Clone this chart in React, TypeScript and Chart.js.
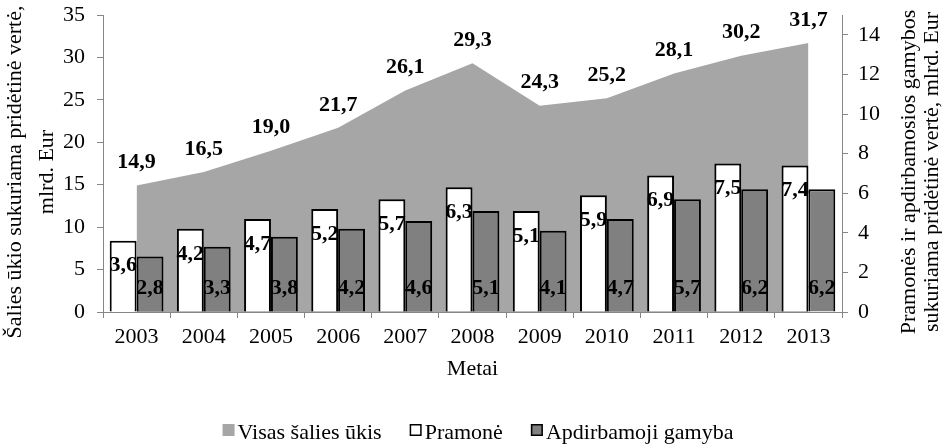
import React, { useEffect, useRef } from "react";
import { Chart, registerables } from "chart.js";

Chart.register(...registerables);

// ---- data ----
const years = ["2003", "2004", "2005", "2006", "2007", "2008", "2009", "2010", "2011", "2012", "2013"];
const visasUkis = [14.9, 16.5, 19.0, 21.7, 26.1, 29.3, 24.3, 25.2, 28.1, 30.2, 31.7];
const pramone = [3.6, 4.2, 4.7, 5.2, 5.7, 6.3, 5.1, 5.9, 6.9, 7.5, 7.4];
const apdirbamoji = [2.8, 3.3, 3.8, 4.2, 4.6, 5.1, 4.1, 4.7, 5.7, 6.2, 6.2];
const seriesNames = ["Visas šalies ūkis", "Pramonė", "Apdirbamoji gamyba"];
const leftAxis = { min: 0, max: 35, step: 5 };
const rightAxis = { min: 0, max: 15, step: 2 };
const leftTitle = ["Šalies ūkio sukuriama pridėtinė vertė,", "mlrd. Eur"];
const rightTitle = ["Pramonės ir apdirbamosios gamybos", "sukuriama pridėtinė vertė, mlrd. Eur"];
const xTitle = "Metai";

const FONT = "'Liberation Serif', 'Times New Roman', serif";
const AREA = "#a6a6a6";
const DARK = "#808080";
const AXIS = "#868686";

const fmt = (v: number) => v.toFixed(1).replace(".", ",");

const overlayPlugin = {
  id: "overlay",
  afterDatasetsDraw(chart: any) {
    const ctx = chart.ctx;
    ctx.save();
    ctx.font = `bold 22px ${FONT}`;
    ctx.fillStyle = "#000";
    ctx.textAlign = "center";
    ctx.textBaseline = "middle";
    // area labels
    const m0 = chart.getDatasetMeta(0);
    m0.data.forEach((el: any, i: number) => {
      const p = el.getProps(["x", "y"], true);
      ctx.fillText(fmt(visasUkis[i]), p.x, p.y - 23);
    });
    // white bar labels (inside end)
    const m1 = chart.getDatasetMeta(1);
    m1.data.forEach((el: any, i: number) => {
      const p = el.getProps(["x", "y", "base"], true);
      ctx.fillText(fmt(pramone[i]), p.x, p.y + 25);
    });
    // dark bar labels (inside base)
    const m2 = chart.getDatasetMeta(2);
    m2.data.forEach((el: any, i: number) => {
      const p = el.getProps(["x", "y", "base"], true);
      ctx.fillText(fmt(apdirbamoji[i]), p.x, p.base - 23);
    });
    ctx.restore();
  },
  afterDraw(chart: any) {
    const ctx = chart.ctx;
    const area = chart.chartArea;
    ctx.save();
    ctx.fillStyle = "#000";
    ctx.font = `22px ${FONT}`;
    ctx.textAlign = "center";
    ctx.textBaseline = "alphabetic";
    const cy = 172;
    // left title
    const lx = [21, 53];
    leftTitle.forEach((t, i) => {
      ctx.save();
      ctx.translate(lx[i], cy);
      ctx.rotate(-Math.PI / 2);
      ctx.fillText(t, 0, 0);
      ctx.restore();
    });
    // right title
    const rx = [915, 938];
    rightTitle.forEach((t, i) => {
      ctx.save();
      ctx.translate(rx[i], cy);
      ctx.rotate(-Math.PI / 2);
      ctx.fillText(t, 0, 0);
      ctx.restore();
    });
    // x title
    ctx.fillText(xTitle, (area.left + area.right) / 2, 375);

    // legend
    const box = 12;
    const gap = 3;
    const spacing = 28;
    ctx.textAlign = "left";
    const widths = seriesNames.map((n) => ctx.measureText(n).width);
    const total = widths.reduce((a, b) => a + b, 0) + seriesNames.length * (box + gap) + spacing * (seriesNames.length - 1);
    let x = 478 - total / 2;
    const baseY = 439;
    const fills = [AREA, "#ffffff", DARK];
    seriesNames.forEach((n, i) => {
      ctx.fillStyle = fills[i];
      ctx.fillRect(x, baseY - 15, box, box);
      if (i > 0) {
        ctx.strokeStyle = "#000";
        ctx.lineWidth = 1.5;
        ctx.strokeRect(x + 0.75, baseY - 15 + 0.75, box - 1.5, box - 1.5);
      }
      ctx.fillStyle = "#000";
      ctx.fillText(n, x + box + gap, baseY);
      x += box + gap + widths[i] + spacing;
    });
    ctx.restore();
  },
};

const fitVertical = (w: number) => (s: any) => {
  s.width = w;
  s.paddingTop = 0;
  s.paddingBottom = 0;
};

export default function App() {
  const ref = useRef<HTMLCanvasElement | null>(null);
  useEffect(() => {
    if (!ref.current) return;
    const chart = new Chart(ref.current, {
      type: "bar",
      data: {
        labels: years,
        datasets: [
          {
            type: "line",
            label: seriesNames[0],
            data: visasUkis,
            yAxisID: "y",
            backgroundColor: AREA,
            borderColor: AREA,
            borderWidth: 0,
            pointRadius: 0,
            tension: 0,
            fill: "origin",
            order: 2,
          } as any,
          {
            type: "bar",
            label: seriesNames[1],
            data: pramone,
            yAxisID: "y1",
            backgroundColor: "#ffffff",
            borderColor: "#000000",
            borderWidth: 2,
            categoryPercentage: 0.8,
            barPercentage: 1,
            order: 1,
          },
          {
            type: "bar",
            label: seriesNames[2],
            data: apdirbamoji,
            yAxisID: "y1",
            backgroundColor: DARK,
            borderColor: "#000000",
            borderWidth: 2,
            categoryPercentage: 0.8,
            barPercentage: 1,
            order: 1,
          },
        ],
      },
      options: {
        responsive: false,
        animation: false,
        layout: { padding: { top: 15, left: 0, right: 0, bottom: 0 } },
        plugins: {
          legend: { display: false },
          tooltip: { enabled: false },
        },
        scales: {
          x: {
            offset: true,
            grid: {
              offset: true,
              drawOnChartArea: false,
              drawTicks: true,
              tickLength: 6,
              color: AXIS,
            },
            border: { display: true, color: AXIS, width: 1 },
            ticks: { color: "#000", font: { family: FONT, size: 22 }, padding: 6, maxRotation: 0, autoSkip: false },
            afterFit: (s: any) => {
              s.height = 133;
              s.paddingLeft = 0;
              s.paddingRight = 0;
            },
          },
          y: {
            position: "left",
            min: leftAxis.min,
            max: leftAxis.max,
            grid: { drawOnChartArea: false, drawTicks: true, tickLength: 6, color: AXIS },
            border: { display: true, color: AXIS, width: 1 },
            ticks: { stepSize: leftAxis.step, color: "#000", font: { family: FONT, size: 22 }, padding: 12 },
            afterFit: fitVertical(103),
          },
          y1: {
            position: "right",
            min: rightAxis.min,
            max: rightAxis.max,
            grid: { drawOnChartArea: false, drawTicks: true, tickLength: 6, color: AXIS },
            border: { display: true, color: AXIS, width: 1 },
            ticks: {
              stepSize: rightAxis.step,
              includeBounds: false,
              color: "#000",
              font: { family: FONT, size: 22 },
              padding: 10,
            },
            afterBuildTicks: (s: any) => {
              s.ticks = s.ticks.filter((t: any) => t.value % rightAxis.step === 0);
            },
            afterFit: fitVertical(100),
          },
        },
      },
      plugins: [overlayPlugin],
    });
    return () => chart.destroy();
  }, []);
  return (
    <div style={{ position: "absolute", left: 0, top: 0, width: 942, height: 445, background: "#fff" }}>
      <canvas ref={ref} width={942} height={445} style={{ display: "block" }} />
    </div>
  );
}
